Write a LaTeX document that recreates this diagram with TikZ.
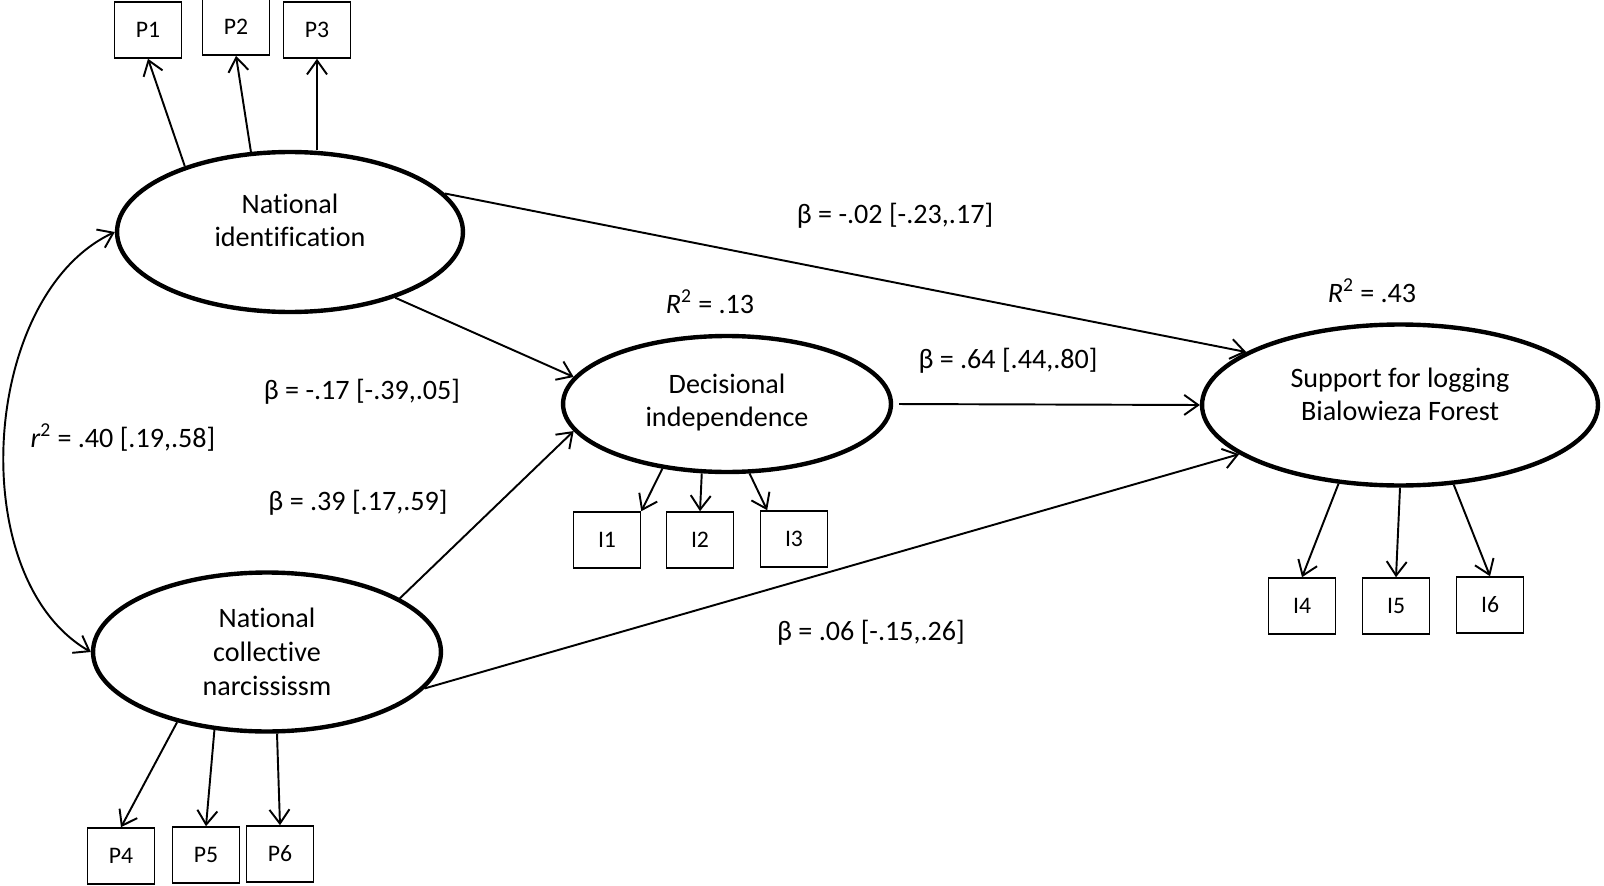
\documentclass[tikz,border=0pt]{standalone}
\usepackage{fontspec}
\setmainfont{Carlito}[Ligatures=CommonOff]
\usetikzlibrary{arrows.meta,positioning,shapes.geometric}

\begin{document}
\begin{tikzpicture}[
  x=0.02cm, y=-0.02cm,
  font=\fontsize{16}{19.3}\selectfont,
  latent/.style={ellipse, draw=black, line width=2.5pt, align=center, inner sep=0pt},
  indicator/.style={rectangle, draw=black, line width=0.9pt, minimum width=1.34cm, minimum height=1.12cm, font=\fontsize{13.5}{15}\selectfont},
  coef/.style={inner sep=0pt},
  line/.style={-{Straight Barb[length=2.8mm, width=4mm]}, line width=1.1pt},
  covline/.style={{Straight Barb[length=2.8mm, width=4mm]}-{Straight Barb[length=2.8mm, width=4mm]}, line width=1.1pt}
]
\useasboundingbox (0,0) rectangle (1604,885);

% latent variables
\node[latent, minimum width=6.92cm, minimum height=3.2cm, text depth=0.47cm] (natid) at (290,232) {National\\identification};
\node[latent, minimum width=6.96cm, minimum height=3.18cm] (ncn) at (267,652) {National\\collective\\narcississm};
\node[latent, minimum width=6.56cm, minimum height=2.72cm, text depth=0.15cm] (decind) at (727,404) {Decisional\\independence};
\node[latent, minimum width=7.92cm, minimum height=3.22cm, text depth=0.43cm] (support) at (1400,405) {Support for logging\\Bialowieza Forest};

% indicators
\node[indicator] (p1) at (148,30) {P1};
\node[indicator] (p2) at (236,27) {P2};
\node[indicator] (p3) at (317,30) {P3};
\node[indicator] (p4) at (121,856) {P4};
\node[indicator] (p5) at (206,855) {P5};
\node[indicator] (p6) at (280,854) {P6};
\node[indicator] (i1) at (607,540) {I1};
\node[indicator] (i2) at (700,540) {I2};
\node[indicator] (i3) at (794,539) {I3};
\node[indicator] (i4) at (1302,606) {I4};
\node[indicator] (i5) at (1396,606) {I5};
\node[indicator] (i6) at (1490,605) {I6};

% coefficients
\node[coef] (r2di) at (710,302) {{\itshape R}\textsuperscript{2} = .13};
\node[coef] (r2sup) at (1372,291) {{\itshape R}\textsuperscript{2} = .43};
\node[coef] (bnisup) at (895,216) {β = -.02 [-.23,.17]};
\node[coef] (bdisup) at (1008,361) {β = .64 [.44,.80]};
\node[coef] (bnidi) at (362,392) {β = -.17 [-.39,.05]};
\node[coef] (bncndi) at (358,503) {β = .39 [.17,.59]};
\node[coef] (bncnsup) at (871,633) {β = .06 [-.15,.26]};
\node[coef] (cov) at (123,438) {{\itshape r}\textsuperscript{2} = .40 [.19,.58]};

% loadings
\draw[line] (natid.148) -- (p1.south);
\draw[line] (natid.116) -- (p2.south);
\draw[line] (natid.north -| p3) -- (p3.south);
\draw[line] (ncn.218) -- (p4.north);
\draw[line] (ncn.236) -- (p5.north);
\draw[line] (ncn.277) -- (p6.north);
\draw[line] (decind.225) -- (i1.north east);
\draw[line] (decind.250) -- (i2.north);
\draw[line] (decind.288) -- (i3.133);
\draw[line] (support.232) -- (i4.north);
\draw[line] (support.south) -- (i5.north);
\draw[line] (support.304) -- (i6.north);

% structural paths
\draw[line] (natid.14) -- (support.161);
\draw[line] (natid.-32) -- (decind.170);
\draw[line] (ncn.22) -- (decind.190);
\draw[line] (ncn.-13) -- (support.197);
\draw[line, shorten <=0.12cm] (decind.east) -- (support.west);
\draw[covline] (natid.west) to[out=205, in=150, looseness=0.9] (ncn.west);
\end{tikzpicture}
\end{document}
